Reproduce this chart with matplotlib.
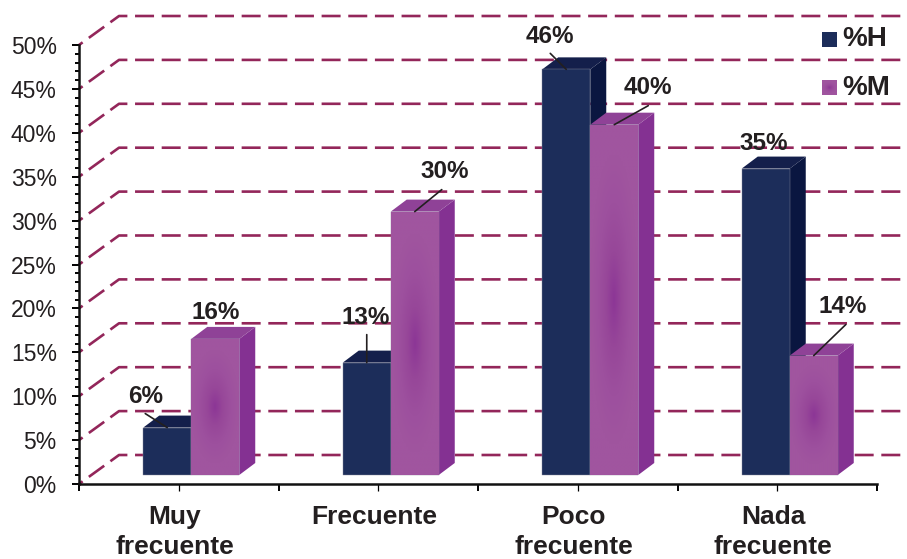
import numpy as np
import matplotlib
matplotlib.use("Agg")
from matplotlib import pyplot as plt
from matplotlib.colors import LinearSegmentedColormap
from matplotlib.patches import Polygon, Rectangle
from matplotlib.ticker import MultipleLocator
from matplotlib.transforms import ScaledTranslation

categories = ["Muy\nfrecuente", "Frecuente", "Poco\nfrecuente", "Nada\nfrecuente"]
values_h = [5.4, 12.8, 46.2, 34.9]
values_m = [15.5, 30.0, 39.9, 13.6]
labels_h = ["6%", "13%", "46%", "35%"]
labels_m = ["16%", "30%", "40%", "14%"]
y_ticks = list(range(0, 55, 5))

# pixel offsets of the value labels and their leader lines, from the bar top
label_off_h = [(-22, 31), (-1, 45), (-16, 33), (-2, 25)]
label_off_m = [(0, 26), (30, 40), (34, 37), (29, 49)]
leader_off_h = [(-22, 14), (0, 28), (-16, 16), None]
leader_off_m = [None, (27, 22), (34, 19), (32, 31)]

W, H = 907, 559
PX_X = 199.5   # pixels per category
PX_Y = 8.78    # pixels per percent

NAVY = ("#1c2d5a", "#141f4b", "#0a1640")
PURPLE = ("#9f539f", "#8f4297", "#843192")
GRID = "#93265a"
TEXT = "#231f20"

plt.rcParams["font.family"] = ["Liberation Sans", "DejaVu Sans"]
purple_map = LinearSegmentedColormap.from_list("p", ["#8c3696", "#974799", "#9d509e", "#a0559f"])

fig = plt.figure(figsize=(W / 100, H / 100), dpi=100)
ax = fig.add_axes([79 / W, (H - 484) / H, 798 / W, 439 / H])
ax.set_xlim(-0.5, 3.5)
ax.set_ylim(0, 50)

# depth of the 3d box and of the bars
wall_dx, wall_dy = 40 / PX_X, 29 / PX_Y
bar_dx, bar_dy = 16 / PX_X, 12 / PX_Y
floor = 9 / PX_Y
width = 48 / PX_X
shift = 12.5 / PX_X
right_end = (903 - 79) / PX_X - 0.5


def gradient():
    yy, xx = np.mgrid[-1:1:120j, -1:1:60j]
    return np.hypot(xx * 1.0, yy * 1.2)


def draw_bars(xs, values, colors, shade):
    bars = ax.bar(xs, values, width, bottom=floor, color=colors[0], zorder=3,
                  edgecolor="#8a8a9c", linewidth=0.3, clip_on=False)
    for x, v, b in zip(xs, values, bars):
        top = floor + v
        x0, x1 = x - width / 2, x + width / 2
        ax.add_patch(Polygon([(x1, floor), (x1 + bar_dx, floor + bar_dy),
                              (x1 + bar_dx, top + bar_dy), (x1, top)],
                             facecolor=colors[2], edgecolor="none", zorder=2.9, clip_on=False))
        ax.add_patch(Polygon([(x0, top), (x0 + bar_dx, top + bar_dy),
                              (x1 + bar_dx, top + bar_dy), (x1, top)],
                             facecolor=colors[1], edgecolor="none", zorder=2.9, clip_on=False))
        if shade:
            im = ax.imshow(gradient(), extent=(x0, x1, floor, top), cmap=purple_map,
                           vmin=0, vmax=1.0, aspect="auto", zorder=3.1)
            im.set_clip_path(b)


def draw_labels(xs, values, labels, label_off, leader_off):
    for x, v, txt, off, lead in zip(xs, values, labels, label_off, leader_off):
        xy = (x, floor + v)
        ax.annotate(txt, xy, xytext=off, textcoords="offset pixels", ha="center", va="center",
                    fontsize=17.5, fontweight="bold", color=TEXT, zorder=6, annotation_clip=False)
        if lead is not None:
            ax.annotate("", xy, xytext=lead, textcoords="offset pixels", zorder=5,
                        annotation_clip=False,
                        arrowprops=dict(arrowstyle="-", color=TEXT, lw=1.2, shrinkA=0, shrinkB=0))


# back wall and side wall dashes
for t in y_ticks:
    ax.plot([-0.5, -0.5 + wall_dx, right_end], [t, t + wall_dy, t + wall_dy], color=GRID,
            lw=1.9, linestyle=(5.5, (7.2, 2.9)), zorder=1, clip_on=False, dash_capstyle="butt")

pos = np.arange(len(categories))
draw_bars(pos + shift - width / 2, values_h, NAVY, False)
draw_bars(pos + shift + width / 2, values_m, PURPLE, True)
ax.set_xlim(-0.5, 3.5)
ax.set_ylim(0, 50)

draw_labels(pos + shift - width / 2, values_h, labels_h, label_off_h, leader_off_h)
draw_labels(pos + shift + width / 2, values_m, labels_m, label_off_m, leader_off_m)

# axes
for side in ("top", "right"):
    ax.spines[side].set_visible(False)
for side in ("left", "bottom"):
    ax.spines[side].set_linewidth(1.8)
    ax.spines[side].set_color("#111111")
ax.patch.set_visible(False)
ax.set_yticks(y_ticks)
ax.set_yticklabels([f"{t}%" for t in y_ticks], fontsize=16.5, color=TEXT)
ax.yaxis.set_minor_locator(MultipleLocator(1))
ax.tick_params(axis="y", which="major", length=5, width=1.4, pad=11)
ax.tick_params(axis="y", which="minor", length=3, width=1.4)
ax.set_xticks(pos)
ax.set_xticklabels(categories, fontsize=19, fontweight="bold", color=TEXT, linespacing=1.3)
ax.xaxis.set_minor_locator(MultipleLocator(1, offset=0.5))
ax.tick_params(axis="x", which="major", length=5, width=0.9, pad=10)
ax.tick_params(axis="x", which="minor", length=5, width=1.4)
nudge = ScaledTranslation(-4 / 100, 0, fig.dpi_scale_trans)
for lab in ax.get_xticklabels():
    lab.set_transform(lab.get_transform() + nudge)

# legend
legend_ax = fig.add_axes([0, 0, 1, 1])
legend_ax.set_xlim(0, W)
legend_ax.set_ylim(H, 0)
legend_ax.axis("off")
legend_ax.add_patch(Rectangle((822, 32), 15, 15, facecolor=NAVY[0], edgecolor="none"))
swatch = legend_ax.imshow(gradient(), extent=(822, 837, 95, 80), cmap=purple_map, vmin=0, vmax=1.0,
                          aspect="auto")
legend_ax.set_xlim(0, W)
legend_ax.set_ylim(H, 0)
legend_ax.text(842, 39, "%H", fontsize=20, fontweight="bold", color=TEXT, va="center")
legend_ax.text(842, 88, "%M", fontsize=20, fontweight="bold", color=TEXT, va="center")

fig.savefig("out.png", dpi=100)
